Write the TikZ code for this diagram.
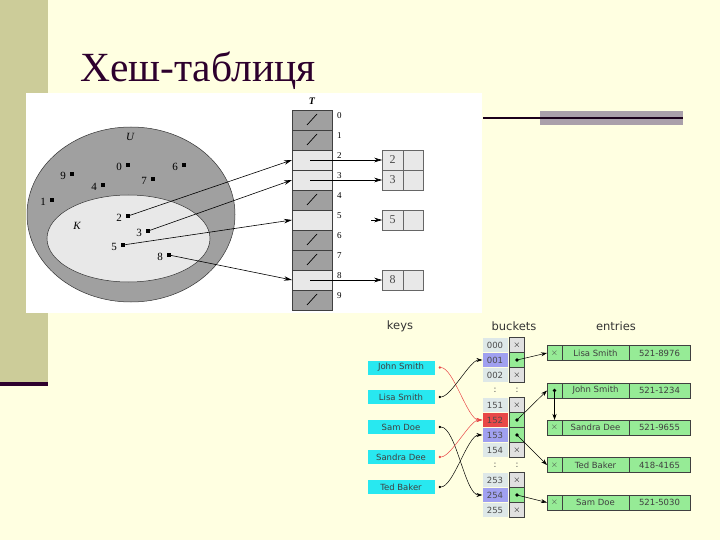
\documentclass[tikz,border=0pt]{standalone}
\usepackage{fontspec}
\setmainfont{Liberation Serif}
\newfontfamily\labelsans{DejaVu Sans}
\usetikzlibrary{arrows.meta, positioning, shapes}
\definecolor{slidebg}{RGB}{255,255,225}
\definecolor{olivebar}{RGB}{204,204,153}
\definecolor{plum}{RGB}{45,0,45}
\definecolor{slidegray}{RGB}{170,160,170}
\definecolor{setdark}{RGB}{160,160,160}
\definecolor{setlight}{RGB}{232,232,232}
\definecolor{keycyan}{RGB}{40,232,240}
\definecolor{cellgreen}{RGB}{150,235,150}
\definecolor{cellgray}{RGB}{224,224,224}
\definecolor{hashblue}{RGB}{160,160,240}
\definecolor{hashred}{RGB}{232,72,72}
\definecolor{hashpale}{RGB}{222,232,232}

\begin{document}
\begin{tikzpicture}[x=1pt, y=-1pt,
  keydot/.style={rectangle, fill=black, inner sep=0pt, minimum size=3.6pt},
  numlbl/.style={font=\fontsize{11}{11}\selectfont, inner sep=1pt, xshift=-3pt, yshift=-2pt},
  idxlbl/.style={font=\fontsize{9}{9}\selectfont, inner sep=1pt, xshift=4pt, yshift=4pt},
  slot/.style={draw=black!75, line width=0.6pt, minimum width=40pt, minimum height=20pt, inner sep=0pt, outer sep=0pt},
  slotnil/.style={slot, fill=setdark},
  slotuse/.style={slot, fill=setlight},
  elemcell/.style={draw=black!60, fill=setlight, minimum width=20.5pt, minimum height=20pt, inner sep=0pt, outer sep=0pt, font=\fontsize{12}{12}\selectfont, text=black!70},
  ptr/.style={-{Stealth[length=8pt,width=4.5pt]}, line width=0.6pt},
  hdr/.style={font=\labelsans\fontsize{11.5}{11.5}\selectfont, text=black!80},
  keybox/.style={fill=keycyan, minimum width=67pt, minimum height=14pt, inner sep=0pt, font=\labelsans\fontsize{8.5}{8.5}\selectfont, text=black!75},
  bucketlbl/.style={minimum width=25pt, minimum height=14pt, inner sep=0pt, font=\labelsans\fontsize{8.5}{8.5}\selectfont, text=black!70},
  bucketcell/.style={draw=black!75, line width=0.6pt, minimum size=15pt, inner sep=0pt, outer sep=0pt, font=\fontsize{9}{9}\selectfont},
  entcell/.style={draw=black!75, fill=cellgreen, line width=0.6pt, minimum height=15pt, inner sep=0pt, outer sep=0pt, font=\labelsans\fontsize{8.5}{8.5}\selectfont, text=black!75},
  keylink/.style={{Circle[length=2.4pt]}-{Stealth[length=6pt,width=4pt]}, line width=0.5pt},
  chain/.style={-{Stealth[length=6pt,width=4pt]}, line width=0.5pt}]

  % slide
  \fill[slidebg] (0,0) rectangle (720,540);
  \fill[olivebar] (0,0) rectangle (48,382);
  \fill[plum] (0,382) rectangle (48,386);
  \fill[slidegray] (540,111) rectangle (683,125);
  \draw[plum!60!black, line width=1.6pt] (483,118) -- (683,118);
  \fill[white] (26,93) rectangle (482,313);
  \node[anchor=base west, inner sep=0pt, text=plum, font=\fontsize{41.5}{41.5}\selectfont] (title) at (80,82) {Хеш-таблиця};

  % universe and keys
  \draw[fill=setdark, draw=black!80, line width=0.5pt] (131,214.5) ellipse [x radius=104pt, y radius=87.5pt];
  \draw[fill=setlight, draw=black!80, line width=0.5pt] (128.5,238.5) ellipse [x radius=81.5pt, y radius=43.5pt];
  \node[font=\itshape\fontsize{11}{11}\selectfont] (setU) at (130,137) {U};
  \node[font=\itshape\fontsize{11}{11}\selectfont] (setK) at (77,226) {K};
  \foreach \k/\x/\y in {0/128/165, 1/52/200, 2/128/216, 3/148/231, 4/103/185, 5/123/245, 6/184/165, 7/153/179, 8/169/255, 9/72/174}
    \node[keydot, label={[numlbl]left:\k}] (k\k) at (\x,\y) {};

  % table T
  \foreach \i/\st in {0/slotnil, 1/slotnil, 2/slotuse, 3/slotuse, 4/slotnil, 5/slotuse, 6/slotnil, 7/slotnil, 8/slotuse, 9/slotnil}
    \node[\st, label={[idxlbl]right:\i}] (t\i) at (312,120+20*\i) {};
  \foreach \i in {0,1,4,6,7,9}
    \draw[line width=0.7pt] ([shift={(-5,5)}]t\i.center) -- ([shift={(5,-6)}]t\i.center);
  \node[font=\bfseries\itshape\fontsize{10}{10}\selectfont, above=2pt of t0] (tname) {T};

  \foreach \v in {2,3,5,8} {
    \node[elemcell] (e\v) at (392.5,120+20*\v) {\v};
    \node[elemcell, right=0pt of e\v] (n\v) {};
  }
  \foreach \v in {2,3,5,8}
    \draw[ptr] (k\v) -- (t\v.west);
  \foreach \v in {2,3,8}
    \draw[ptr] ([xshift=-2pt]t\v.center) -- (e\v.west);
  \coordinate (s5) at (371,220);
  \draw[ptr] (s5) -- (e5.west);

  % keys, buckets, entries
  \node[hdr] (keyshdr) at (400,326) {keys};
  \node[hdr] (buckhdr) at (514,326) {buckets};
  \node[hdr] (enthdr) at (616,326) {entries};

  \foreach \n/\t/\y in {john/John Smith/367.5, lisa/Lisa Smith/397, sam/Sam Doe/427, sandra/Sandra Dee/457, ted/Ted Baker/487}
    \node[keybox] (\n) at (401,\y) {\t};

  \foreach \b/\y/\lc/\cc/\mk in {000/345/hashpale/cellgray/$\times$, 001/360/hashblue/cellgreen/{}, 002/375/hashpale/cellgray/$\times$,
      151/405/hashpale/cellgray/$\times$, 152/420/hashred/cellgreen/{}, 153/435/hashblue/cellgreen/{}, 154/450/hashpale/cellgray/$\times$,
      253/480/hashpale/cellgray/$\times$, 254/495/hashblue/cellgreen/{}, 255/510/hashpale/cellgray/$\times$} {
    \node[bucketlbl, fill=\lc] (b\b) at (495,\y) {\b};
    \node[bucketcell, fill=\cc] (c\b) at (517,\y) {\mk};
  }
  \node[bucketlbl] (gapa) at (495,390) {:};
  \node[bucketlbl] (gapb) at (517,390) {:};
  \node[bucketlbl] (gapc) at (495,465) {:};
  \node[bucketlbl] (gapd) at (517,465) {:};

  \foreach \n/\y/\nm/\tel/\mk in {1/353/Lisa Smith/521-8976/$\times$, 2/390.5/John Smith/521-1234/{}, 3/427.5/Sandra Dee/521-9655/$\times$,
      4/465/Ted Baker/418-4165/$\times$, 5/502.5/Sam Doe/521-5030/$\times$} {
    \node[entcell, minimum width=15pt, font=\fontsize{9}{9}\selectfont] (x\n) at (554.5,\y) {\mk};
    \node[entcell, minimum width=67pt, right=0pt of x\n] (nm\n) {\nm};
    \node[entcell, minimum width=61pt, right=0pt of nm\n] (tel\n) {\tel};
  }

  \draw[keylink, hashred] ([xshift=4pt]john.east) to[out=0, in=180, looseness=0.55] (b152.west);
  \draw[keylink] ([xshift=4pt]lisa.east) to[out=0, in=180, looseness=0.55] (b001.west);
  \draw[keylink] ([xshift=4pt]sam.east) to[out=0, in=180, looseness=0.55] (b254.west);
  \draw[keylink, hashred] ([xshift=4pt]sandra.east) to[out=0, in=180, looseness=0.55] (b152.west);
  \draw[keylink] ([xshift=4pt]ted.east) to[out=0, in=180, looseness=0.55] (b153.west);

  \foreach \c in {001,152,153,254}
    \fill (c\c.center) circle (1.8pt);
  \fill (x2.center) circle (1.8pt);
  \draw[chain] (c001.center) -- (x1.west);
  \draw[chain] (c152.center) -- (x2.west);
  \draw[chain] (c153.center) -- (x4.west);
  \draw[chain] (c254.center) -- (x5.west);
  \draw[chain] (x2.center) -- (x3.north);
\end{tikzpicture}
\end{document}
